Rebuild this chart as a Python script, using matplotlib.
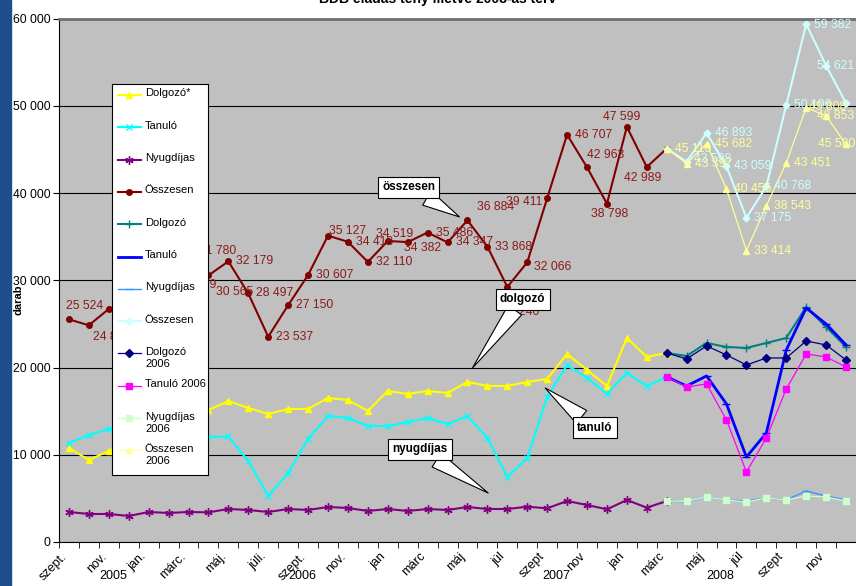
import numpy as np
import matplotlib
matplotlib.use("Agg")
import matplotlib.pyplot as plt
from matplotlib.patches import Rectangle
from matplotlib.lines import Line2D

plt.rcParams['font.family'] = ['Liberation Sans', 'DejaVu Sans']

# havi címkék (2005 szept. - 2008 dec.)
honapok = ["szept.", "okt.", "nov.", "dec.", "jan.", "febr.", "márc.", "ápr.", "máj.", "jún.",
           "júli.", "aug.", "szept.", "okt.", "nov.", "dec", "jan", "febr", "márc", "ápr",
           "máj", "jún", "júl", "aug", "szept", "okt", "nov", "dec", "jan", "febr",
           "márc", "ápr", "máj", "jún", "júl", "aug", "szept", "okt", "nov", "dec"]
evek = ["2005", "2006", "2007", "2008"]
ev_pos = [2.2, 11.7, 24.45, 32.7]

N = None
# tény 2005.09 - 2008.03
dolgozo = [10780, 9404, 10436, 11300, 12400, 13600, 15000, 15138, 16170, 15367, 14679, 15252, 15252,
           16514, 16284, 15023, 17317, 16972, 17317, 17087, 18349, 17890, 17890, 18349, 18693, 21560,
           19725, 17890, 23394, 21216, 21674] + [N] * 9
tanulo = [11353, 12270, 12959, 13200, 12500, 12500, 13300, 12041, 12100, 9289, 5275, 7913, 11812,
          14450, 14220, 13303, 13303, 13761, 14220, 13532, 14450, 11927, 7454, 9633, 16628, 20298,
          18807, 16972, 19381, 17890, 18922] + [N] * 9
nyugdijas = [3440, 3211, 3211, 2982, 3440, 3326, 3440, 3400, 3784, 3670, 3440, 3784, 3670, 4014,
             3900, 3555, 3784, 3555, 3784, 3670, 4014, 3784, 3784, 4048, 3860, 4702, 4243, 3747,
             4817, 3937, 4702] + [N] * 9
osszesen = [25524, 24850, 26720, 27500, 28300, 29469, 31780, 30565, 32179, 28497, 23537, 27150,
            30607, 35127, 34418, 32110, 34519, 34382, 35486, 34347, 36884, 33868, 29240, 32066,
            39411, 46707, 42963, 38798, 47599, 42989, 45116] + [N] * 9
# 2008 terv (2008.03-tól)
dolgozo_terv = [N] * 30 + [21674, 21330, 22821, 22362, 22248, 22821, 23394, 26950, 24656, 22362]
tanulo_terv = [N] * 30 + [18922, 17890, 19037, 15826, 9748, 12500, 22018, 26835, 25000, 22592]
nyugdijas_terv = [N] * 30 + [4702, 4587, 5160, 4817, 4702, 5046, 4817, 5849, 5275, 4817]
osszesen_terv = [N] * 30 + [45116, 43598, 46893, 43059, 37175, 40768, 50106, 59382, 54621, 50300]
# 2006-os összehasonlítás
dolgozo_2006 = [N] * 30 + [21674, 20986, 22477, 21445, 20298, 21101, 21101, 23050, 22592, 20871]
tanulo_2006 = [N] * 30 + [18922, 17775, 18119, 13991, 8028, 11927, 17546, 21560, 21216, 20069]
nyugdijas_2006 = [N] * 30 + [4702, 4650, 5160, 4817, 4587, 5046, 4817, 5275, 5160, 4702]
osszesen_2006 = [N] * 30 + [45116, 43397, 45682, 40455, 33414, 38543, 43451, 49808, 48853, 45580]

# (név, adatok, szín, vonalvastagság, marker, markerméret)
sorozatok = [
    ("Dolgozó*", dolgozo, "#FFFF00", 1.5, "^", 5),
    ("Tanuló", tanulo, "#00FFFF", 1.5, "x", 5),
    ("Nyugdíjas", nyugdijas, "#800080", 1.5, (6, 2, 0), 6),
    ("Összesen", osszesen, "#800000", 1.5, "o", 4),
    ("Dolgozó", dolgozo_terv, "#008080", 1.5, "+", 6),
    ("Tanuló", tanulo_terv, "#0000FF", 2.0, "_", 6),
    ("Nyugdíjas", nyugdijas_terv, "#3399FF", 1.0, "_", 6),
    ("Összesen", osszesen_terv, "#CCFFFF", 1.5, "D", 3.5),
    ("Dolgozó\n2006", dolgozo_2006, "#000080", 0.9, "D", 4),
    ("Tanuló 2006", tanulo_2006, "#FF00FF", 0.9, "s", 4.5),
    ("Nyugdíjas\n2006", nyugdijas_2006, "#CCFFCC", 0.9, "s", 4.5),
    ("Összesen\n2006", osszesen_2006, "#FFFF99", 0.9, "^", 5),
]

fig = plt.figure(figsize=(8.56, 5.86), dpi=100)
fig.patches.append(Rectangle((0, 0), 11 / 856, 1, transform=fig.transFigure,
                             color="#1F4E8C", zorder=0))
ax = fig.add_axes([59 / 856, 1 - 542 / 586, 1 - 59 / 856, (542 - 18.7) / 586])
ax.set_facecolor("#C0C0C0")

x = np.arange(len(honapok))
for nev, adat, szin, lw, mk, ms in sorozatok:
    y = np.array(adat, dtype=float)
    ax.plot(x, y, color=szin, lw=lw, marker=mk, ms=ms, mfc=szin, mec=szin, mew=1)


def fmt(v):
    return f"{v:,.0f}".replace(",", " ")


# adatfeliratok eltolása pixelben (dx, dy lefelé)
off_ossz = {0: (-3, -13), 1: (4, 12), 5: (10, 0), 6: (10, -14), 7: (8, 17), 13: (1, -5),
            16: (-12, -7), 17: (-4, 6), 20: (10, -13), 22: (-5, 25), 23: (7, 5), 24: (-41, 4),
            26: (0, -12), 27: (-16, 10), 28: (-24, -10), 29: (-23, 11)}
off_terv = {31: (7, -3), 37: (8, 1), 38: (-9, 0)}
off_2006 = {37: (3, -1), 38: (-9, 0), 39: (-28, 0)}


def feliratok(adat, idx, offs, szin):
    for i in idx:
        dx, dy = offs.get(i, (8, 0))
        ax.annotate(fmt(adat[i]), (i, adat[i]), xytext=(dx, -dy), textcoords="offset pixels",
                    ha="left", va="center", fontsize=8.7, color=szin, annotation_clip=False,
                    zorder=5)


feliratok(osszesen, range(0, 30), off_ossz, "#8B1A1A")
feliratok(osszesen_terv, range(31, 39), off_terv, "#CCFFFF")
feliratok(osszesen_2006, range(30, 40), off_2006, "#FFFF99")

ax.set_xlim(-0.5, (856 - 69) / 20.2)
ax.set_ylim(0, 60000)
ax.set_yticks(range(0, 60001, 10000))
ax.set_yticklabels([fmt(v) for v in range(0, 60001, 10000)], fontsize=8.7)
ax.yaxis.grid(True, color="black", lw=0.8)
ax.set_axisbelow(True)
ax.set_xticks(x[::2])
ax.set_xticklabels(honapok[::2], rotation=45, ha="right", fontsize=9)
ax.set_xticks(np.arange(-0.5, len(honapok), 1), minor=True)
ax.tick_params(axis="x", which="major", length=0, pad=6)
ax.tick_params(axis="x", which="minor", length=4, direction="out")
ax.tick_params(axis="y", length=4, direction="out", pad=2)
ax.spines["right"].set_visible(False)
ax.spines["top"].set_color("#707070")
ax.spines["top"].set_linewidth(2)
for ev, p in zip(evek, ev_pos):
    ax.text(p, -0.065, ev, transform=ax.get_xaxis_transform(), ha="center", va="center",
            fontsize=9)

# hívó feliratok
hivok = [("összesen", (19.6, 37270), (17.05, 40650)),
         ("dolgozó", (20.25, 19950), (22.77, 27805)),
         ("tanuló", (23.9, 17657), (26.39, 13128)),
         ("nyugdíjas", (21.04, 5618), (17.62, 10606))]
for txt, cel, hely in hivok:
    ax.annotate(txt, xy=cel, xytext=hely, ha="center", va="center", fontsize=8.5,
                fontweight="bold", zorder=6,
                bbox=dict(boxstyle="square,pad=0.35", fc="white", ec="black", lw=0.8),
                arrowprops=dict(arrowstyle="wedge,tail_width=1.4,shrink_factor=0.5",
                                fc="white", ec="black", lw=0.8, shrinkA=0, shrinkB=0))

fig.text(18 / 856, 1 - 300 / 586, "darab", rotation=90, ha="center", va="center",
         fontsize=8, fontweight="bold")
fig.text(438 / 856, 1 - 3.5 / 586, "BDB eladás tény illetve 2008-as terv", ha="center",
         va="baseline", fontsize=10, fontweight="bold")

# jelmagyarázat
lax = fig.add_axes([112 / 856, 1 - 475 / 586, 96 / 856, 391 / 586], zorder=10)
lax.set_xlim(0, 96)
lax.set_ylim(391, 0)
lax.set_xticks([])
lax.set_yticks([])
lax.set_facecolor("white")
for s in lax.spines.values():
    s.set_linewidth(0.8)
for k, (nev, adat, szin, lw, mk, ms) in enumerate(sorozatok):
    yy = 11 + 32.3 * k
    lax.add_line(Line2D([6, 29], [yy, yy], color=szin, lw=lw))
    lax.add_line(Line2D([17.5], [yy], marker=mk, ms=ms, mfc=szin, mec=szin, mew=1, lw=0))
    lax.text(33, yy - 6.5, nev, ha="left", va="top", fontsize=8, linespacing=1.3)

fig.savefig("out.png", dpi=100)
